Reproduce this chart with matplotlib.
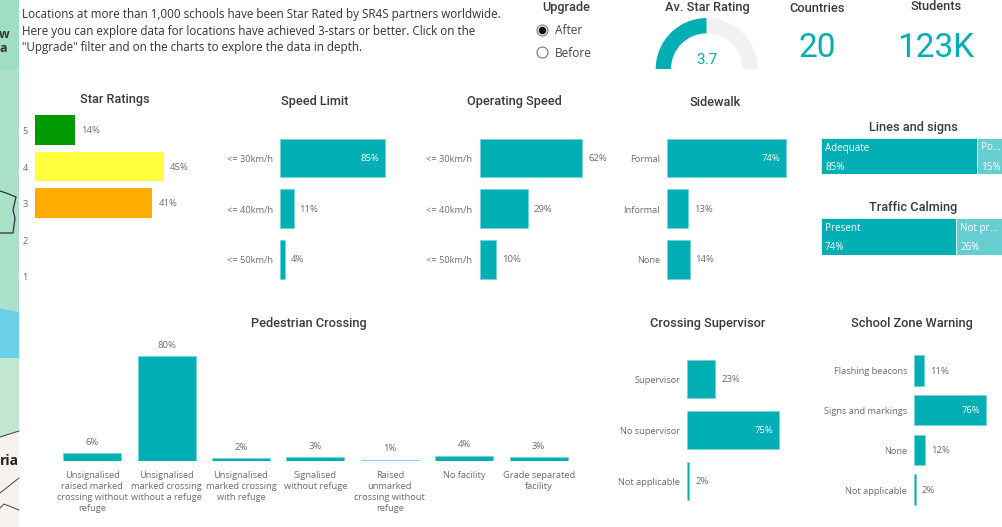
import matplotlib
matplotlib.use('Agg')
import matplotlib.pyplot as plt

W, H = 1002, 527
TEAL = '#00AEB3'
TEAL_LIGHT = '#66CED1'
GRIS = '#6b6b6b'
OSCURO = '#3a3a3a'

star_cats = ['5', '4', '3', '2', '1']
star_vals = [14, 45, 41, 0, 0]
star_cols = ['#009900', '#FFFF3D', '#FFAB00', TEAL, TEAL]

speed_cats = ['<= 30km/h', '<= 40km/h', '<= 50km/h']
speed_limit = [85, 11, 4]
operating_speed = [62, 29, 10]

sidewalk_cats = ['Formal', 'Informal', 'None']
sidewalk_vals = [74, 13, 14]

supervisor_cats = ['Supervisor', 'No supervisor', 'Not applicable']
supervisor_vals = [23, 75, 2]

zone_cats = ['Flashing beacons', 'Signs and markings', 'None', 'Not applicable']
zone_vals = [11, 76, 12, 2]

ped_cats = ['Unsignalised\nraised marked\ncrossing without\nrefuge',
            'Unsignalised\nmarked crossing\nwithout a refuge',
            'Unsignalised\nmarked crossing\nwith refuge',
            'Signalised\nwithout refuge',
            'Raised\nunmarked\ncrossing without\nrefuge',
            'No facility',
            'Grade separated\nfacility']
ped_vals = [6, 80, 2, 3, 1, 4, 3]

lines_vals = [85, 15]
lines_cats = ['Adequate', 'Po...']
calming_vals = [74, 26]
calming_cats = ['Present', 'Not pr...']

avg_rating = 3.7
countries = '20'
students = '123K'

intro = ('Locations at more than 1,000 schools have been Star Rated by SR4S partners worldwide.\n'
         'Here you can explore data for locations have achieved 3-stars or better. Click on the\n'
         '"Upgrade" filter and on the charts to explore the data in depth.')

plt.rcParams['font.family'] = ['Open Sans', 'DejaVu Sans']

fig = plt.figure(figsize=(W / 100, H / 100), dpi=100, facecolor='white')


def caja(x0, y0, x1, y1):
    # rectangulo en pixeles, origen arriba a la izquierda
    return fig.add_axes([x0 / W, 1 - y1 / H, (x1 - x0) / W, (y1 - y0) / H])


fondo = caja(0, 0, W, H)
fondo.set_xlim(0, W)
fondo.set_ylim(H, 0)
fondo.axis('off')

# trozo de mapa a la izquierda
fondo.fill([0, 19, 19, 0], [0, 0, 312, 308], color='#ABE1C9', lw=0)
fondo.fill([0, 19, 19, 0], [0, 0, 70, 70], color='#A0DEC3', lw=0)
fondo.fill([0, 19, 19, 0], [308, 312, 358, 358], color='#6CCFE8', lw=0)
fondo.fill([0, 19, 19, 0], [358, 358, 432, 438], color='#C2E8D2', lw=0)
fondo.fill([0, 19, 19, 0], [438, 432, 527, 527], color='#F6F3EE', lw=0)
fondo.plot([0, 6, 16, 13, 15, 13, 0], [191, 193, 197, 210, 218, 233, 233], color='#333333', lw=0.9)
fondo.plot([0, 19], [437, 431], color='#444444', lw=0.7)
fondo.plot([0, 19], [493, 478], color='#444444', lw=0.7)
fondo.plot([0, 4, 19], [508, 504, 510], color='#444444', lw=0.7)
fondo.text(-1, 34, 'w', fontsize=9, fontweight='bold', color='#333333', va='center', ha='left')
fondo.text(0, 49, 'a', fontsize=9, fontweight='bold', color='#333333', va='center', ha='left')
fondo.text(19, 461, 'ria', fontsize=10, fontweight='bold', color='#222222', va='center', ha='right')

fondo.text(22, 31, intro, fontsize=8.4, color='#333333', va='center', ha='left', linespacing=1.36)


def titulo(x, y, s, size=9.2):
    fondo.text(x, y, s, fontsize=size, color=OSCURO, ha='center', va='center',
               family=['Roboto', 'DejaVu Sans'], fontweight='medium')


titulo(566, 8, 'Upgrade')
titulo(707, 8, 'Av. Star Rating')
titulo(817, 8, 'Countries')
titulo(936, 7, 'Students')
titulo(115, 99, 'Star Ratings')
titulo(315, 102, 'Speed Limit')
titulo(514, 102, 'Operating Speed')
titulo(715, 102, 'Sidewalk')
titulo(913, 127, 'Lines and signs')
titulo(913, 207, 'Traffic Calming')
titulo(309, 323, 'Pedestrian Crossing')
titulo(708, 323, 'Crossing Supervisor')
titulo(912, 323, 'School Zone Warning')

# filtro
fondo.scatter([542], [29.5], s=62, facecolor='white', edgecolor='#777777', lw=0.8)
fondo.scatter([542], [29.5], s=20, color='#111111')
fondo.scatter([542], [52], s=62, facecolor='white', edgecolor='#777777', lw=0.8)
fondo.text(555, 30.5, 'After', fontsize=8.6, color='#444444', va='center')
fondo.text(555, 53.5, 'Before', fontsize=8.6, color='#444444', va='center')

# tarjetas
fondo.text(817, 48, countries, fontsize=24, color=TEAL, ha='center', va='center',
           family=['Roboto', 'DejaVu Sans'])
fondo.text(936, 48, students, fontsize=24, color=TEAL, ha='center', va='center',
           family=['Roboto', 'DejaVu Sans'])

# gauge: media corona, el maximo por defecto es el doble del valor
ax = caja(654.7, 17, 758.7, 121)
ax.pie([avg_rating, avg_rating, 2 * avg_rating], radius=1, startangle=180, counterclock=False,
       colors=[TEAL, '#F1F1F1', 'none'], wedgeprops={'width': 0.3})
ax.set_xlim(-1.02, 1.02)
ax.set_ylim(-1.02, 1.02)
ax.text(0, 0.17, '3.7', fontsize=11, color=TEAL, ha='center', va='center',
        family=['Roboto', 'DejaVu Sans'])


def hbar(x0, y_primero, paso, alto, px_por_pct, cats, vals, cols=TEAL, tope=70):
    n = len(cats)
    y0 = y_primero - paso / 2
    y1 = y0 + paso * n
    ancho = px_por_pct * 100
    ax = caja(x0, y0, x0 + ancho, y1)
    pos = list(range(n))
    ax.barh(pos, vals, height=alto / paso, color=cols, edgecolor='#6fd6d8' if cols == TEAL else 'none', linewidth=0.5)
    ax.set_xlim(0, 100)
    ax.set_ylim(n - 0.5, -0.5)
    ax.axis('off')
    for i, (c, v) in enumerate(zip(cats, vals)):
        ax.annotate(c, (0, i), xytext=(-7, -1.5), textcoords='offset pixels', ha='right', va='center',
                    fontsize=6.7, color=GRIS, annotation_clip=False)
        if v == 0:
            continue
        if v >= tope:
            ax.annotate(f'{v}%', (v, i), xytext=(-6, -0.5), textcoords='offset pixels', ha='right',
                        va='center', fontsize=6.8, color='white')
        else:
            ax.annotate(f'{v}%', (v, i), xytext=(6, -0.5), textcoords='offset pixels', ha='left',
                        va='center', fontsize=6.8, color=GRIS, annotation_clip=False)
    return ax


hbar(35, 130, 36.6, 29.5, 2.86, star_cats, star_vals, cols=star_cols)
hbar(280, 158, 50.7, 38.5, 1.235, speed_cats, speed_limit)
hbar(479.5, 158, 50.7, 38.5, 1.66, speed_cats, operating_speed, tope=101)
hbar(667, 158, 50.7, 38.5, 1.608, sidewalk_cats, sidewalk_vals)
hbar(687, 379, 51, 38.5, 1.233, supervisor_cats, supervisor_vals)
hbar(914, 370.5, 39.7, 30.5, 0.95, zone_cats, zone_vals)

# columnas
ax = caja(55, 330, 575.8, 461)
pos = list(range(len(ped_cats)))
ax.bar(pos, ped_vals, width=58 / 74.4, color=TEAL, edgecolor='#6fd6d8', linewidth=0.5)
ax.set_xlim(-0.5, len(ped_cats) - 0.5)
ax.set_ylim(0, 100)
ax.axis('off')
for i, (c, v) in enumerate(zip(ped_cats, ped_vals)):
    ax.annotate(f'{v}%', (i, v), xytext=(0, 11), textcoords='offset pixels', ha='center',
                va='center', fontsize=6.8, color=GRIS, annotation_clip=False)
    ax.annotate(c, (i, 0), xytext=(0, -10), textcoords='offset pixels', ha='center', va='top',
                fontsize=6.7, color=GRIS, linespacing=1.27, annotation_clip=False)


def treemap(y0, y1, vals, cats):
    # la derecha queda cortada por el borde de la imagen
    ax = caja(821, y0, 1004, y1)
    ax.set_xlim(0, 100)
    ax.set_ylim(0, 1)
    ax.axis('off')
    ax.barh([0.5], [vals[0]], height=1, left=0, color=TEAL, edgecolor='white', linewidth=0.5)
    ax.barh([0.5], [vals[1]], height=1, left=vals[0], color=TEAL_LIGHT, edgecolor='white', linewidth=0.5)
    left = 0
    for v, c in zip(vals, cats):
        ax.annotate(c, (left, 1), xytext=(4, -10), textcoords='offset pixels', fontsize=7.1,
                    color='white', va='center', ha='left', annotation_clip=False)
        ax.annotate(f'{v}%', (left, 0), xytext=(4, 7), textcoords='offset pixels', fontsize=7.1,
                    color='white', va='center', ha='left', annotation_clip=False)
        left += v


treemap(138, 174, lines_vals, lines_cats)
treemap(218.5, 254.5, calming_vals, calming_cats)

fig.savefig('out.png', dpi=100)
